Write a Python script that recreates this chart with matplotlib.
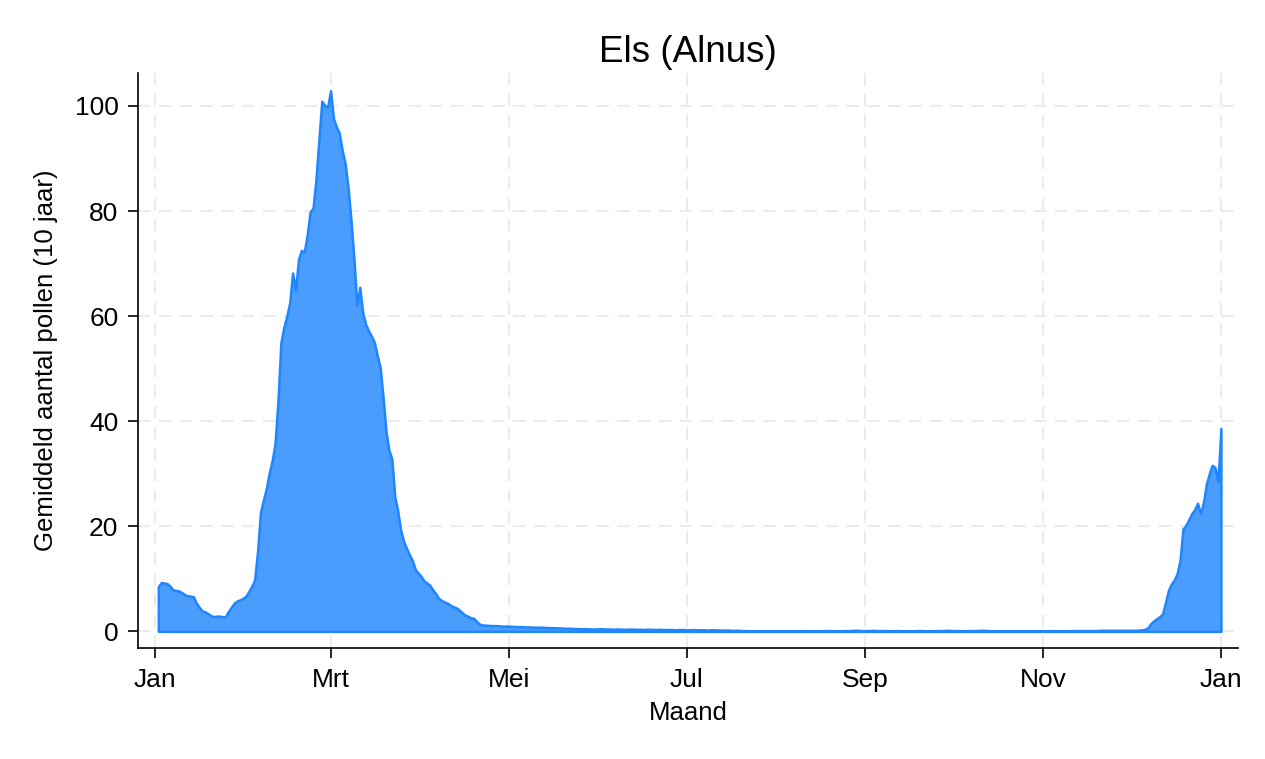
import numpy as np
import matplotlib
matplotlib.use("Agg")
import matplotlib.pyplot as plt

jan = [8.5, 9.3, 9.2, 9.1, 8.6, 7.9, 7.8, 7.7, 7.4, 7.0, 6.8, 6.7, 6.6, 5.4, 4.6, 3.9,
       3.7, 3.4, 3.0, 2.8, 2.9, 2.9, 2.8, 2.8, 3.8, 4.6, 5.4, 5.8, 6.0, 6.3, 6.7]
feb = [7.6, 8.6, 9.8, 15.3, 22.7, 25.0, 27.2, 30.2, 32.5, 35.8, 44.0, 55.0, 57.9, 60.0,
       62.5, 68.2, 65.0, 70.8, 72.5, 72.2, 75.5, 79.8, 80.6, 86.0, 93.5, 100.9, 100.1, 99.8]
mrt = [102.9, 97.6, 96.0, 94.8, 91.5, 89.0, 84.4, 78.3, 71.0, 62.0, 65.5, 60.7, 58.5, 57.2,
       56.2, 55.0, 52.5, 50.2, 44.5, 38.0, 34.5, 32.8, 25.6, 23.0, 19.3, 17.2, 15.8, 14.6,
       13.5, 11.8, 11.1]
apr = [10.5, 9.6, 9.2, 8.8, 7.9, 7.2, 6.3, 5.9, 5.6, 5.4, 5.0, 4.7, 4.5, 4.1, 3.6, 3.1,
       2.9, 2.6, 2.5, 1.9, 1.4, 1.2, 1.2, 1.15, 1.1, 1.1, 1.1, 1.05, 1.0, 1.0]
mei = [1.0, 0.95, 0.95, 0.9, 0.9, 0.9, 0.85, 0.85, 0.8, 0.8, 0.8, 0.8, 0.75, 0.75, 0.7, 0.7,
       0.7, 0.65, 0.65, 0.6, 0.6, 0.6, 0.55, 0.55, 0.5, 0.5, 0.5, 0.5, 0.45, 0.45, 0.45]
jun = [0.5, 0.5, 0.45, 0.45, 0.45, 0.4, 0.45, 0.45, 0.4, 0.4, 0.4, 0.45, 0.4, 0.4, 0.4,
       0.35, 0.4, 0.4, 0.4, 0.35, 0.35, 0.4, 0.35, 0.35, 0.35, 0.35, 0.3, 0.35, 0.35, 0.35]
jul = [0.3, 0.3, 0.35, 0.3, 0.3, 0.3, 0.3, 0.25, 0.3, 0.3, 0.3, 0.25, 0.25, 0.25, 0.25,
       0.2, 0.2, 0.2, 0.2, 0.15, 0.15, 0.1, 0.1, 0.1, 0.05, 0.05, 0.05, 0.05, 0.05, 0.05, 0.1]
aug = [0.1, 0.1, 0.1, 0.1, 0.1, 0.1, 0.1, 0.1, 0.1, 0.1, 0.15, 0.1, 0.1, 0.1, 0.1, 0.1,
       0.15, 0.15, 0.15, 0.1, 0.1, 0.1, 0.1, 0.15, 0.15, 0.15, 0.2, 0.2, 0.2, 0.15, 0.15]
sep = [0.15, 0.15, 0.2, 0.15, 0.15, 0.15, 0.15, 0.15, 0.1, 0.1, 0.15, 0.15, 0.1, 0.1, 0.1,
       0.1, 0.1, 0.15, 0.15, 0.15, 0.1, 0.1, 0.1, 0.15, 0.15, 0.15, 0.15, 0.2, 0.2, 0.15]
okt = [0.15, 0.15, 0.1, 0.1, 0.15, 0.15, 0.15, 0.15, 0.2, 0.2, 0.2, 0.15, 0.15, 0.1, 0.1,
       0.1, 0.1, 0.1, 0.1, 0.1, 0.1, 0.1, 0.1, 0.1, 0.1, 0.1, 0.1, 0.1, 0.1, 0.1, 0.1]
nov = [0.1, 0.15, 0.15, 0.1, 0.1, 0.1, 0.1, 0.1, 0.1, 0.15, 0.15, 0.15, 0.15, 0.15, 0.15,
       0.15, 0.15, 0.15, 0.2, 0.2, 0.2, 0.2, 0.2, 0.2, 0.2, 0.2, 0.2, 0.2, 0.2, 0.2]
dec = [0.2, 0.2, 0.25, 0.3, 0.4, 0.7, 1.5, 2.0, 2.4, 2.8, 3.3, 5.5, 7.8, 9.0, 9.8, 11.0,
       13.5, 19.5, 20.2, 21.3, 22.4, 23.2, 24.4, 22.4, 24.5, 28.0, 30.0, 31.6, 31.2, 28.5, 38.6]

month_labels = ["Jan", "Mrt", "Mei", "Jul", "Sep", "Nov", "Jan"]
month_ticks = [0, 60, 121, 182, 243, 304, 365]

values = np.array(jan + feb + mrt + apr + mei + jun + jul + aug + sep + okt + nov + dec)
days = np.arange(1, len(values) + 1)

plt.rcParams['font.family'] = ['Liberation Sans', 'DejaVu Sans']

fig = plt.figure(figsize=(12.65, 7.59), dpi=100)
ax = fig.add_axes([0.109, 0.146, 0.870, 0.758])

ax.fill_between(days, values, 0, facecolor='#4a9dfd', edgecolor='#1f86ff',
                linewidth=1.8, zorder=3)

ax.set_xlim(-6, 371)
ax.set_ylim(-3.2, 106.3)
ax.set_xticks(month_ticks)
ax.set_xticklabels(month_labels)
ax.set_yticks([0, 20, 40, 60, 80, 100])

ax.grid(True, color='#ebebeb', linestyle=(0, (6, 4)), linewidth=1.5, zorder=0)
for s in ['top', 'right']:
    ax.spines[s].set_visible(False)
for s in ['left', 'bottom']:
    ax.spines[s].set_linewidth(1.2)
    ax.spines[s].set_color('black')

ax.tick_params(axis='both', direction='out', length=7, width=1.2, labelsize=19, pad=7)

ax.set_title("Els (Alnus)", fontsize=26.5, pad=8)
ax.set_xlabel("Maand", fontsize=18.5, labelpad=7)
ax.set_ylabel("Gemiddeld aantal pollen (10 jaar)", fontsize=18.5, labelpad=12)

fig.savefig("out.png", dpi=100)
